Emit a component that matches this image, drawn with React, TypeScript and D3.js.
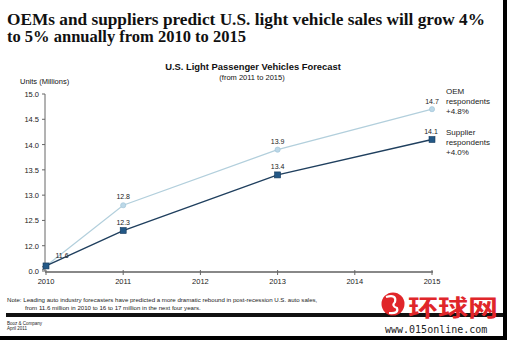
import React from "react";
import * as d3 from "d3";

const years = [2010, 2011, 2012, 2013, 2014, 2015];
const yTicks = [11.5, 12.0, 12.5, 13.0, 13.5, 14.0, 14.5, 15.0];
const yTickLabels = ["0.0", "12.0", "12.5", "13.0", "13.5", "14.0", "14.5", "15.0"];
const oemYears = [2010, 2011, 2013, 2015];
const oemValues = [11.6, 12.8, 13.9, 14.7];
const supplierYears = [2010, 2011, 2013, 2015];
const supplierValues = [11.6, 12.3, 13.4, 14.1];
const oemLegend = ["OEM", "respondents", "+4.8%"];
const supplierLegend = ["Supplier", "respondents", "+4.0%"];
const titleLines = [
  "OEMs and suppliers predict U.S. light vehicle sales will grow 4%",
  "to 5% annually from 2010 to 2015",
];
const noteLines = [
  "Note: Leading auto industry forecasters have predicted a more dramatic rebound in post-recession U.S. auto sales,",
  "from 11.6 million in 2010 to 16 to 17 million in the next four years.",
];

const W = 507;
const H = 340;
const sans = "Arial, 'Liberation Sans', Helvetica, sans-serif";

export default function App() {
  const x = d3.scaleLinear().domain([2010, 2015]).range([46, 432]);
  const y = d3.scaleLinear().domain([11.5, 15]).range([271, 94]);
  const line = d3
    .line<[number, number]>()
    .x((d) => x(d[0]))
    .y((d) => y(d[1]));
  const oem = oemYears.map((yr, i) => [yr, oemValues[i]] as [number, number]);
  const sup = supplierYears.map((yr, i) => [yr, supplierValues[i]] as [number, number]);

  const oemColor = "#b2cfdc";
  const oemMarker = "#bcd8e8";
  const supColor = "#1f3f5e";
  const supMarker = "#235886";

  return (
    <svg
      width={W}
      height={H}
      style={{ position: "absolute", left: 0, top: 0, background: "#fff" }}
    >
      <rect x={0} y={0} width={W} height={H} fill="#fff" />
      {/* main title */}
      <text
        x={7}
        y={25}
        fontFamily="'Liberation Serif', 'DejaVu Serif', serif"
        fontWeight="bold"
        fontSize={16}
        textLength={478}
        lengthAdjust="spacingAndGlyphs"
        fill="#111"
      >
        {titleLines[0]}
      </text>
      <text
        x={7}
        y={42}
        fontFamily="'Liberation Serif', 'DejaVu Serif', serif"
        fontWeight="bold"
        fontSize={16}
        textLength={239}
        lengthAdjust="spacingAndGlyphs"
        fill="#111"
      >
        {titleLines[1]}
      </text>

      {/* chart title */}
      <text x={253} y={70} textAnchor="middle" fontFamily={sans} fontWeight="bold" fontSize={9.4} fill="#111">
        U.S. Light Passenger Vehicles Forecast
      </text>
      <text x={252} y={80} textAnchor="middle" fontFamily={sans} fontSize={7.5} fill="#111">
        (from 2011 to 2015)
      </text>
      <text x={20} y={84} fontFamily={sans} fontSize={7.5} fill="#111">
        Units (Millions)
      </text>

      {/* y axis */}
      <line x1={45} x2={45} y1={y(15)} y2={y(11.5)} stroke="#666" strokeWidth={1} />
      {yTicks.map((t, i) => (
        <g key={t}>
          <line x1={42} x2={45} y1={y(t)} y2={y(t)} stroke="#666" />
          <text x={39} y={y(t) + 3} textAnchor="end" fontFamily={sans} fontSize={7.5} fill="#222">
            {yTickLabels[i]}
          </text>
        </g>
      ))}
      {/* axis break */}
      <path d={`M42,${y(11.5) - 4} L48,${y(11.5) - 7} M42,${y(11.5) - 1} L48,${y(11.5) - 4}`} stroke="#666" fill="none" />

      {/* x axis */}
      <line x1={45} x2={433} y1={272} y2={272} stroke="#888" strokeWidth={2} />
      {years.map((yr) => (
        <g key={yr}>
          <line x1={x(yr)} x2={x(yr)} y1={270} y2={275} stroke="#666" />
          <text x={x(yr)} y={284} textAnchor="middle" fontFamily={sans} fontSize={7.5} fill="#222">
            {yr}
          </text>
        </g>
      ))}

      {/* lines */}
      <path d={line(oem) || ""} fill="none" stroke={oemColor} strokeWidth={1.2} />
      <path d={line(sup) || ""} fill="none" stroke={supColor} strokeWidth={1.4} />
      {oem.map((d) => (
        <circle key={"o" + d[0]} cx={x(d[0])} cy={y(d[1])} r={2.6} fill={oemMarker} stroke="#9ec3d6" strokeWidth={0.6} />
      ))}
      {sup.map((d) => (
        <rect
          key={"s" + d[0]}
          x={x(d[0]) - 3}
          y={y(d[1]) - 3}
          width={6}
          height={6}
          fill={supMarker}
          stroke="#173a5c"
          strokeWidth={0.6}
        />
      ))}

      {/* value labels */}
      <text x={62} y={258} textAnchor="middle" fontFamily={sans} fontSize={7} fill="#222">11.6</text>
      {oem.slice(1, 3).map((d) => (
        <text key={"ol" + d[0]} x={x(d[0])} y={y(d[1]) - 6} textAnchor="middle" fontFamily={sans} fontSize={7} fill="#222">
          {d[1].toFixed(1)}
        </text>
      ))}
      {sup.slice(1, 3).map((d) => (
        <text key={"sl" + d[0]} x={x(d[0])} y={y(d[1]) - 6} textAnchor="middle" fontFamily={sans} fontSize={7} fill="#222">
          {d[1].toFixed(1)}
        </text>
      ))}
      <text x={x(2015)} y={y(14.7) - 5} textAnchor="middle" fontFamily={sans} fontSize={7} fill="#222">
        {oemValues[3].toFixed(1)}
      </text>
      <text x={x(2015) - 1} y={y(14.1) - 6} textAnchor="middle" fontFamily={sans} fontSize={7} fill="#222">
        {supplierValues[3].toFixed(1)}
      </text>

      {/* legend labels */}
      {oemLegend.map((s, i) => (
        <text key={"lo" + i} x={446} y={94 + i * 10} fontFamily={sans} fontSize={8} fill="#222">{s}</text>
      ))}
      {supplierLegend.map((s, i) => (
        <text key={"ls" + i} x={446} y={135 + i * 10} fontFamily={sans} fontSize={8} fill="#222">{s}</text>
      ))}

      {/* note */}
      <text x={7} y={302} fontFamily={sans} fontSize={6.1} fill="#222">{noteLines[0]}</text>
      <text x={25} y={310} fontFamily={sans} fontSize={6.1} fill="#222">{noteLines[1]}</text>

      {/* black bar */}
      <rect x={6} y={313} width={497} height={4} fill="#111" />
      <text x={7} y={325} fontFamily={sans} fontSize={4.5} fill="#222">Booz &amp; Company</text>
      <text x={7} y={330} fontFamily={sans} fontSize={4.5} fill="#222">April 2011</text>

      {/* watermark */}
      <circle cx={393} cy={304} r={11.5} fill="#e0262a" />
      <path d="M386,297 Q397,294 395,302 Q391,306 397,308 Q399,314 389,313" fill="none" stroke="#fff" strokeWidth={2.2} />
      <text x={408} y={316} fontFamily="'Noto Sans CJK SC', sans-serif" fontWeight="bold" fontSize={23} textLength={90} lengthAdjust="spacingAndGlyphs" fill="#e0262a">
        环球网
      </text>
      <rect x={383} y={323} width={122} height={13} fill="#fff" />
      <text x={385} y={333} fontFamily="'DejaVu Sans Mono', monospace" fontSize={10} fill="#222">www.015online.com</text>

      {/* frame edges */}
      <rect x={503} y={0} width={4} height={H} fill="#000" />
      <rect x={0} y={336} width={W} height={4} fill="#000" />
    </svg>
  );
}
